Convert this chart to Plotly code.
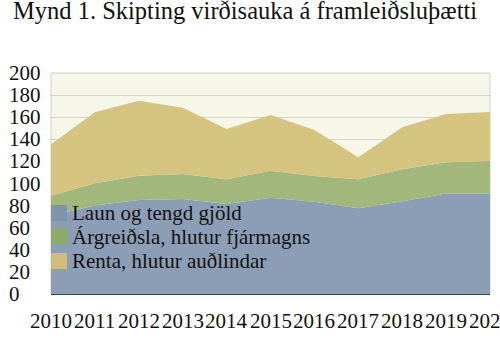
import plotly.graph_objects as go

years = [2010, 2011, 2012, 2013, 2014, 2015, 2016, 2017, 2018, 2019, 2020]
laun = [71, 80, 85, 86, 81.5, 87, 83.5, 77.5, 84, 91, 91]
argreidsla = [18, 20.2, 22, 22.6, 22.3, 24.6, 23.3, 26.3, 28.8, 28.2, 29.4]
renta = [46.5, 64.2, 68, 60, 45.5, 50.4, 41.6, 19.9, 38, 43.7, 44.3]
y_ticks = [0, 20, 40, 60, 80, 100, 120, 140, 160, 180, 200]
series_names = ["Laun og tengd gjöld", "Árgreiðsla, hlutur fjármagns", "Renta, hlutur auðlindar"]
colors = ["#8b9eb6", "#a2b77b", "#d5c480"]
swatch_colors = ["#7f94ab", "#8fab6c", "#cfbd7b"]
title_text = "Mynd 1. Skipting virðisauka á framleiðsluþætti"

W, H = 500, 347
L, R, T, B = 51, 10, 73, 53
pw, ph = W - L - R, H - T - B

fig = go.Figure()
for name, vals, c in zip(series_names, [laun, argreidsla, renta], colors):
    fig.add_trace(go.Scatter(
        x=years, y=vals, name=name, stackgroup="one", mode="lines",
        line=dict(width=0, color=c), fillcolor=c, showlegend=False,
    ))

font = "Liberation Serif"
fs = 21
fig.update_layout(
    width=W, height=H,
    margin=dict(l=L, r=R, t=T, b=B),
    paper_bgcolor="white", plot_bgcolor="#f6f6e9",
    font=dict(family=font, size=fs, color="#111111"),
    title=dict(text=title_text, x=13/W, xref="container", xanchor="left",
               y=1 - 2/H, yref="container", yanchor="top",
               font=dict(family=font, size=24.5, color="#111111")),
    showlegend=False,
    xaxis=dict(range=[2010, 2020], tickmode="array", tickvals=years,
               showticklabels=False, showgrid=False, zeroline=False,
               ticks="", layer="above traces", showline=False),
    yaxis=dict(range=[0, 200], tickmode="array", tickvals=y_ticks, showticklabels=False,
               showgrid=True, gridcolor="rgba(150,150,140,0.35)", gridwidth=1,
               zeroline=True, zerolinecolor="#3a4252", zerolinewidth=2,
               ticks="", layer="above traces", showline=False),
)
fig.add_shape(type="rect", xref="paper", yref="paper", x0=0, x1=1, y0=0, y1=1,
              line=dict(color="#d0d0c8", width=1), layer="below")

# x tick labels (centred on each year)
for yr in years:
    fig.add_annotation(text=str(yr), xref="x", yref="paper", x=yr, y=0,
                       xanchor="center", yanchor="top", yshift=-14, showarrow=False,
                       borderpad=0, font=dict(family=font, size=fs, color="#111111"))

# left-aligned y tick labels
for v in y_ticks:
    fig.add_annotation(text=str(v), xref="paper", yref="y", x=(8 - L) / pw, y=v,
                       xanchor="left", yanchor="middle", showarrow=False,
                       borderpad=0, font=dict(family=font, size=fs, color="#111111"))

# manual legend (pixel positions converted to paper coords)
row_centers = [213, 236.5, 261]
for name, sc, yc in zip(series_names, swatch_colors, row_centers):
    yp = (H - B - yc) / ph
    half = 8 / ph
    fig.add_shape(type="rect", xref="paper", yref="paper",
                  x0=0, x1=16 / pw, y0=yp - half, y1=yp + half,
                  fillcolor=sc, line=dict(width=0), layer="above")
    fig.add_annotation(text=name, xref="paper", yref="paper", x=20 / pw, y=yp,
                       xanchor="left", yanchor="middle", showarrow=False,
                       borderpad=0, font=dict(family=font, size=fs, color="#111111"))
fig.write_html("out.html")
